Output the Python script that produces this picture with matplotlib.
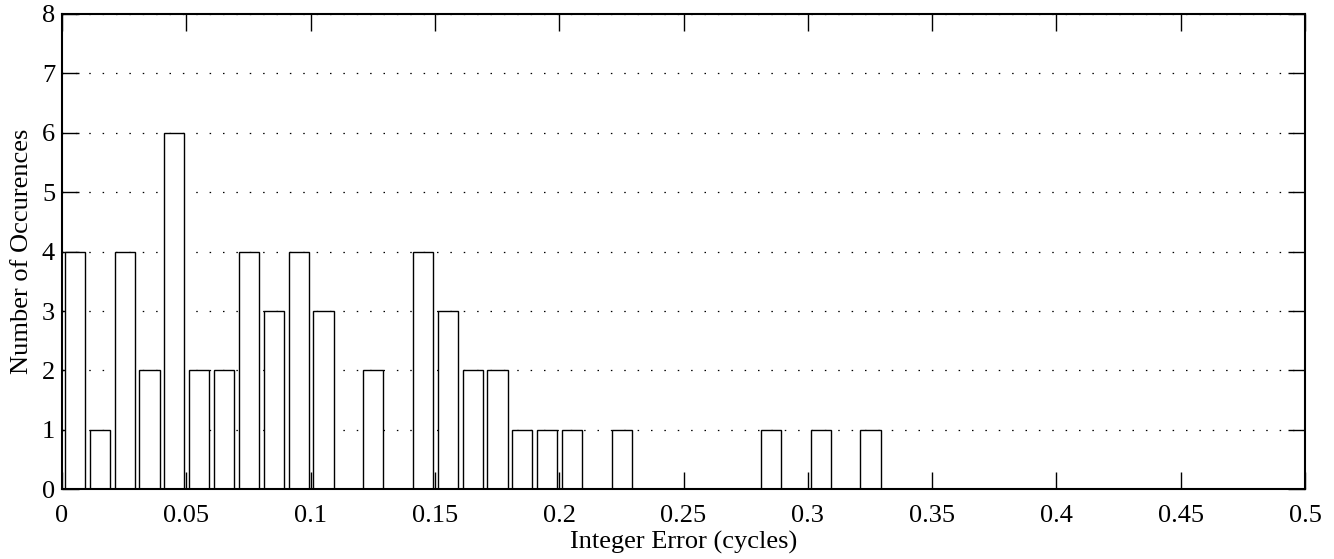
import matplotlib
matplotlib.use("Agg")
import matplotlib.pyplot as plt

bin_centers = [0.005, 0.015, 0.025, 0.035, 0.045, 0.055, 0.065, 0.075, 0.085, 0.095,
               0.105, 0.125, 0.145, 0.155, 0.165, 0.175, 0.185, 0.195, 0.205,
               0.225, 0.285, 0.305, 0.325]
counts = [4, 1, 4, 2, 6, 2, 2, 4, 3, 4,
          3, 2, 4, 3, 2, 2, 1, 1, 1,
          1, 1, 1, 1]
x_ticks = [0, 0.05, 0.1, 0.15, 0.2, 0.25, 0.3, 0.35, 0.4, 0.45, 0.5]
x_tick_labels = ["0", "0.05", "0.1", "0.15", "0.2", "0.25", "0.3", "0.35", "0.4", "0.45", "0.5"]
y_ticks = [0, 1, 2, 3, 4, 5, 6, 7, 8]

plt.rcParams['font.family'] = ['Liberation Serif', 'DejaVu Serif']

fig = plt.figure(figsize=(13.34, 5.59), dpi=100)
ax = fig.add_axes([62/1334, 1-489.3/559, (1305-62)/1334, (489.3-14)/559])

shifted = [c + 0.0002 for c in bin_centers]
ax.bar(shifted, counts, width=0.0081, facecolor='white', edgecolor='black',
       linewidth=1.0, zorder=3)

ax.set_xlim(0, 0.5)
ax.set_ylim(0, 8)
ax.set_xticks(x_ticks)
ax.set_xticklabels(x_tick_labels)
ax.set_yticks(y_ticks)
ax.yaxis.grid(True, linestyle=(0, (1.2, 9.5)), color='black', linewidth=0.9, zorder=0)
ax.xaxis.grid(False)
ax.set_axisbelow(True)

ax.tick_params(direction='in', top=True, right=True, length=12, width=1.0,
               labelsize=19, colors='black')
ax.tick_params(axis='x', pad=11)
ax.tick_params(axis='y', pad=5)
for s in ax.spines.values():
    s.set_linewidth(1.5)
    s.set_zorder(5)

ax.set_xlabel("Integer Error (cycles)", fontsize=19, labelpad=3)
ax.set_ylabel("Number of Occurences", fontsize=19, labelpad=6)

fig.savefig("out.png", dpi=100)
